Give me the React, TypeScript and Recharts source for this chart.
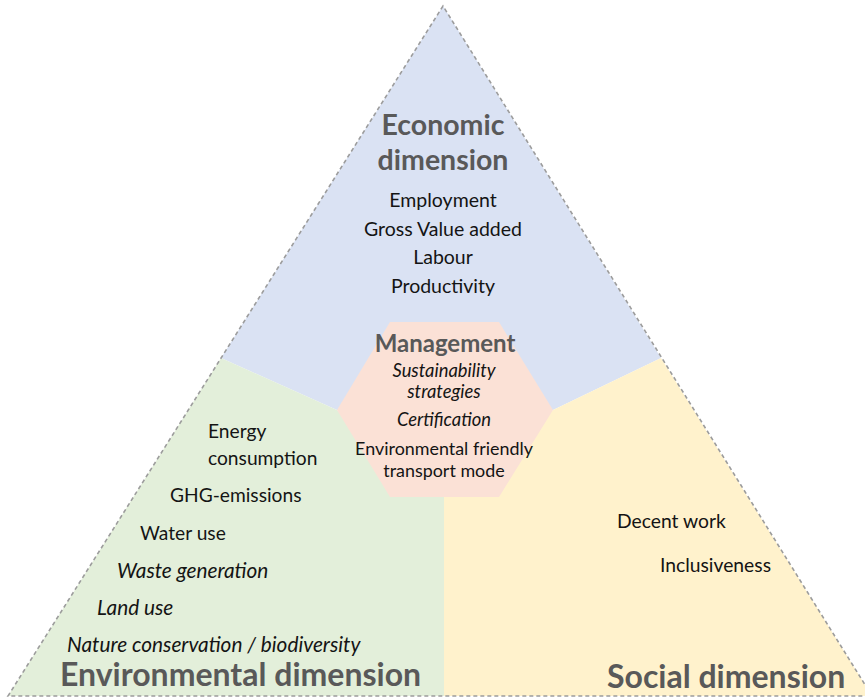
import { ScatterChart, Scatter, XAxis, YAxis } from 'recharts';

// diagram space = page pixels, y grows downwards
const pyramid = [
  { x: 443, y: 6 },
  { x: 8, y: 696 },
  { x: 872, y: 696 },
];
const economicArea = [
  { x: 443, y: 6 },
  { x: 221, y: 358 },
  { x: 337, y: 410 },
  { x: 444, y: 410 },
  { x: 553, y: 410 },
  { x: 661, y: 358 },
];
const environmentalArea = [
  { x: 221, y: 358 },
  { x: 8, y: 696 },
  { x: 444, y: 696 },
  { x: 444, y: 497 },
  { x: 337, y: 410 },
];
const socialArea = [
  { x: 661, y: 358 },
  { x: 872, y: 696 },
  { x: 444, y: 696 },
  { x: 444, y: 497 },
  { x: 553, y: 410 },
];
const managementHex = [
  { x: 390, y: 322 },
  { x: 499, y: 322 },
  { x: 553, y: 410 },
  { x: 499, y: 497 },
  { x: 390, y: 497 },
  { x: 337, y: 410 },
];

const economicTitle = [
  { text: 'Economic', x: 443, y: 135 },
  { text: 'dimension', x: 443, y: 170 },
];
const economicItems = [
  { text: 'Employment', x: 443, y: 207 },
  { text: 'Gross Value added', x: 443, y: 236 },
  { text: 'Labour', x: 443, y: 264 },
  { text: 'Productivity', x: 443, y: 293 },
];
const managementTitle = [{ text: 'Management', x: 445, y: 352 }];
const managementItems = [
  { text: 'Sustainability', x: 444, y: 377 },
  { text: 'strategies', x: 444, y: 398 },
  { text: 'Certification', x: 444, y: 426 },
  { text: 'Environmental friendly', x: 444, y: 455 },
  { text: 'transport mode', x: 444, y: 477 },
];
const environmentalItems = [
  { text: 'Energy', x: 208, y: 438 },
  { text: 'consumption', x: 208, y: 465 },
  { text: 'GHG-emissions', x: 170, y: 502 },
  { text: 'Water use', x: 140, y: 540 },
  { text: 'Waste generation', x: 117, y: 578 },
  { text: 'Land use', x: 97, y: 615 },
  { text: 'Nature conservation / biodiversity', x: 67, y: 652 },
];
const socialItems = [
  { text: 'Decent work', x: 617, y: 528 },
  { text: 'Inclusiveness', x: 660, y: 572 },
];
const bottomTitles = [
  { text: 'Environmental dimension', x: 60, y: 686 },
  { text: 'Social dimension', x: 607, y: 688 },
];

const italicLabels = new Set([
  'Sustainability',
  'strategies',
  'Certification',
  'Waste generation',
  'Land use',
  'Nature conservation / biodiversity',
]);

const FONT = 'Lato, "Open Sans", sans-serif';
const HEAD = '#595959';
const INK = '#141414';

const polygon = (fill: string, stroke = 'none', dash?: string) => (props: any) => (
  <polygon
    points={props.points.map((p: any) => `${p.x},${p.y}`).join(' ')}
    fill={fill}
    stroke={stroke}
    strokeWidth={1.6}
    strokeDasharray={dash}
  />
);

const noDot = () => <g />;

// italic Lato runs narrower than the original font, so italics get their own size
const label =
  (size: number, italicSize: number, weight: number, color: string, anchor: string) => (props: any) => {
    const text = props.payload.text;
    const italic = italicLabels.has(text);
    return (
      <text
        x={props.cx}
        y={props.cy}
        fontFamily={FONT}
        fontSize={italic ? italicSize : size}
        fontWeight={weight}
        fontStyle={italic ? 'italic' : 'normal'}
        fill={color}
        textAnchor={anchor}
      >
        {text}
      </text>
    );
  };

export default function App() {
  return (
    <div style={{ position: 'absolute', left: 0, top: 0, background: '#fff' }}>
      <ScatterChart width={865} height={697} margin={{ top: 0, right: 0, bottom: 0, left: 0 }}>
        <XAxis type="number" dataKey="x" domain={[0, 865]} allowDataOverflow hide />
        <YAxis type="number" dataKey="y" domain={[0, 697]} allowDataOverflow reversed hide />

        <Scatter data={economicArea} line={polygon('#dae2f3')} shape={noDot} isAnimationActive={false} />
        <Scatter data={environmentalArea} line={polygon('#e3efda')} shape={noDot} isAnimationActive={false} />
        <Scatter data={socialArea} line={polygon('#fff2cc')} shape={noDot} isAnimationActive={false} />
        <Scatter data={managementHex} line={polygon('#fbe1d6')} shape={noDot} isAnimationActive={false} />
        <Scatter data={pyramid} line={polygon('none', '#9c9c9c', '4 3')} shape={noDot} isAnimationActive={false} />

        <Scatter data={economicTitle} shape={label(28.5, 28.5, 700, HEAD, 'middle')} isAnimationActive={false} />
        <Scatter data={economicItems} shape={label(19.5, 19.5, 400, INK, 'middle')} isAnimationActive={false} />
        <Scatter data={managementTitle} shape={label(24, 24, 700, HEAD, 'middle')} isAnimationActive={false} />
        <Scatter data={managementItems} shape={label(17.9, 18.4, 400, INK, 'middle')} isAnimationActive={false} />
        <Scatter data={environmentalItems} shape={label(19.2, 20.8, 400, INK, 'start')} isAnimationActive={false} />
        <Scatter data={socialItems} shape={label(19.3, 20.8, 400, INK, 'start')} isAnimationActive={false} />
        <Scatter data={bottomTitles} shape={label(32, 32, 700, HEAD, 'start')} isAnimationActive={false} />
      </ScatterChart>
    </div>
  );
}
